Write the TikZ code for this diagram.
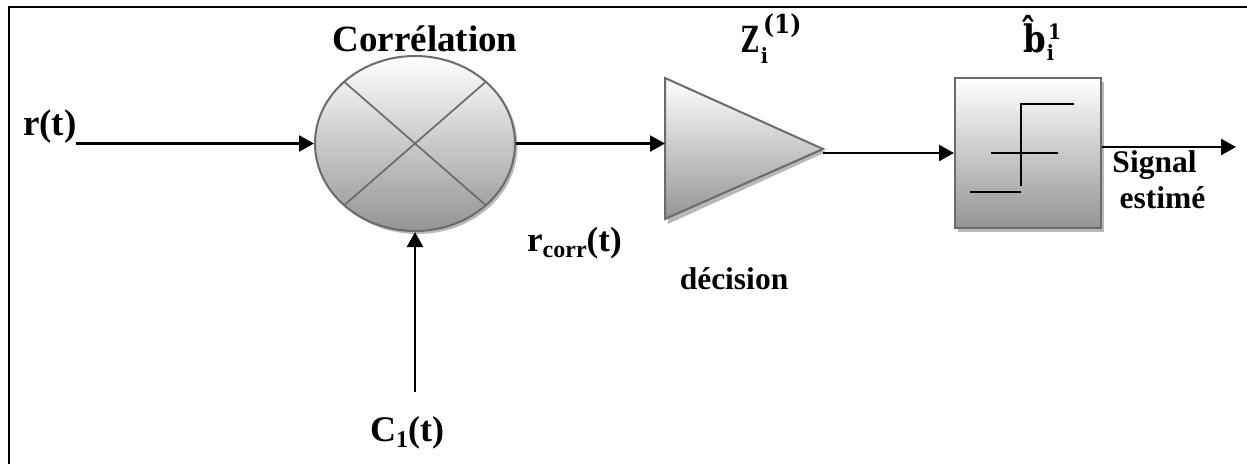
\documentclass[tikz,border=0pt]{standalone}
\usepackage{fontspec}
\setmainfont{Liberation Serif}
\newfontfamily\mathserif{DejaVu Serif Condensed}
\usetikzlibrary{shapes.geometric,arrows.meta}
\tikzset{
  x=1pt,y=-1pt,
  wire/.style={line width=2.4pt,-{Triangle[length=15pt,width=16pt]}},
  innerline/.style={line width=1.7pt,draw=black},
  part/.style={draw=black!58,line width=2pt,top color=white,bottom color=black!42},
  shadowpart/.style={fill=black!28,draw=none},
  crossline/.style={draw=black!58,line width=1.7pt},
  lab/.style={inner sep=0pt,font=\fontsize{37}{40}\selectfont\bfseries},
  mathlab/.style={inner sep=0pt,font=\mathserif\fontsize{36}{40}\selectfont\bfseries},
  small/.style={inner sep=0pt,font=\fontsize{31.5}{34}\selectfont\bfseries,align=center},
}
\newcommand{\subf}{\fontsize{21}{24}\selectfont}
\newcommand{\supf}{\fontsize{26}{28}\selectfont}
\begin{document}
\begin{tikzpicture}
\useasboundingbox (0,0) rectangle (1247,464);
\draw[line width=2pt] (8.5,464) -- (8.5,6.5) -- (1247,6.5);

% correlator
\fill[shadowpart] (417.5,146) ellipse [x radius=100,y radius=88];
\node[ellipse,part,minimum width=200pt,minimum height=175pt,inner sep=0pt] (corr) at (415,143.5) {};
\draw[crossline] (corr.center) ++(-70,-61) coordinate (c1) -- ++(140,122) coordinate (c2);
\draw[crossline] (corr.center) ++(70,-61) coordinate (c3) -- ++(-140,122) coordinate (c4);

% decision triangle
\coordinate (ta) at (665,78);
\coordinate (tb) at (823,149);
\coordinate (tc) at (665,219);
\coordinate (tin) at (665,143.5);
\coordinate (tout) at (823,153);
\fill[shadowpart] (667,82) -- (826,152) -- (668,224) -- cycle;
\shade[top color=white,bottom color=black!42] (ta) -- (tb) -- (tc) -- cycle;
\draw[draw=black!58,line width=2pt,line join=miter] (ta) -- (tb) -- (tc) -- cycle;

% threshold box
\fill[shadowpart] (958,82) rectangle (1104,232);
\node[rectangle,part,minimum width=146pt,minimum height=150pt,inner sep=0pt] (box) at (1028,153) {};
\draw[innerline] (1074,104) -- (1021,104) -- (1021,186);
\draw[innerline] (991,153) -- (1058,153);
\draw[innerline] (970,192) -- (1021,192);

% free ends
\node[lab,anchor=base west] (rt) at (23,135) {r(t)};
\node[lab,anchor=base west,font=\fontsize{36}{40}\selectfont\bfseries] (c1t) at (370,441) {C\raisebox{-6pt}{\fontsize{24}{26}\selectfont 1}(t)};
\node[lab,anchor=base west,font=\fontsize{35}{38}\selectfont\bfseries] (rc) at (527,251) {r\raisebox{-6pt}{\fontsize{24}{26}\selectfont corr}(t)};
\coordinate (rs) at (76,143.5);
\coordinate (cs) at (415,392);
\coordinate (out) at (1236,147);

\draw[wire] (rs) -- (corr.west);
\draw[wire] (cs) -- (corr.south);
\draw[wire] (corr.east) -- (tin);
\draw[wire] (tout) -- (box.west);
\draw[wire] (box.east |- out) -- (out);

% labels
\node[lab,anchor=base] (title) at (425,51) {Corrélation};
\node[mathlab,anchor=base west] (z) at (741,52) {\scalebox{.75}[1]{Z}\raisebox{-11pt}{\hspace{2pt}\subf i}\raisebox{19pt}{\hspace{-5pt}\supf(1)}};
\node[mathlab,anchor=base west] (b) at (1023,52) {\scalebox{1}[1.05]{\^b}\raisebox{-8pt}{\hspace{1pt}\subf i}\raisebox{13pt}{\hspace{-6pt}\subf 1}};
\node[small,anchor=base] (sig) at (1154.5,172) {Signal};
\node[small,anchor=base] (est) at (1162.5,208) {estimé};
\node[small,anchor=base] (dec) at (734,289) {décision};
\end{tikzpicture}
\end{document}
